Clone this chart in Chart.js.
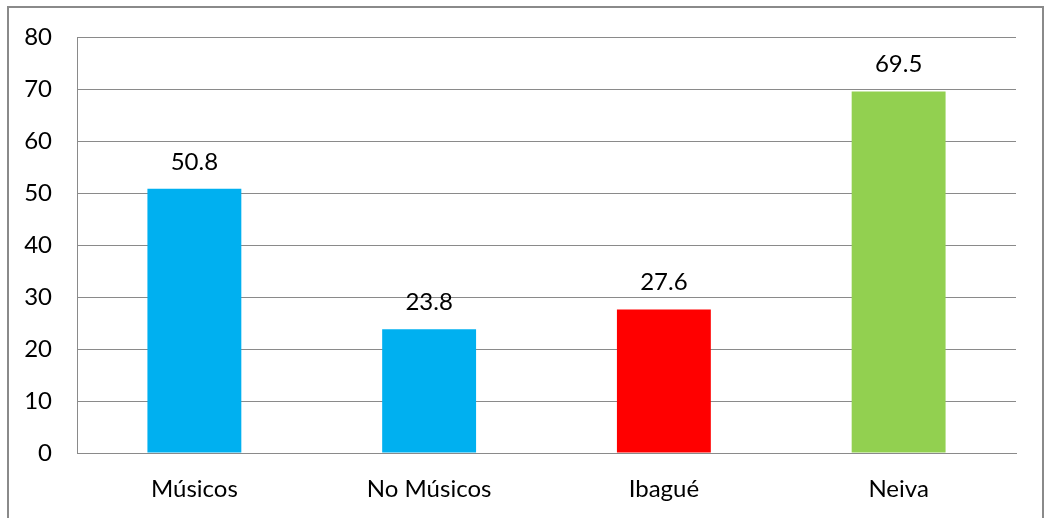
<!DOCTYPE html>
<html>
<head>
<meta charset="utf-8">
<script src="https://cdn.jsdelivr.net/npm/chart.js@4.4.1/dist/chart.umd.min.js"></script>
<style>
  html, body { margin: 0; padding: 0; background: #fff; }
  #wrap { position: relative; width: 1045px; height: 518px; }
</style>
</head>
<body>
<div id="wrap"><canvas id="chart" width="1045" height="518"></canvas></div>
<script>
const categories = ['Músicos', 'No Músicos', 'Ibagué', 'Neiva'];
const values = [50.8, 23.8, 27.6, 69.5];
const barColors = ['#00B0F0', '#00B0F0', '#FF0000', '#92D050'];
const yTicks = [0, 10, 20, 30, 40, 50, 60, 70, 80];

const FONT = 'Lato, Calibri, sans-serif';

// outer frame + value labels over the bars
const framePlugin = {
  id: 'frame',
  beforeDraw(chart) {
    const ctx = chart.ctx;
    ctx.save();
    ctx.strokeStyle = '#8a8a8a';
    ctx.lineWidth = 2;
    ctx.strokeRect(8, 7, 1035, 530);
    ctx.restore();
  },
  afterDatasetsDraw(chart) {
    const ctx = chart.ctx;
    const meta = chart.getDatasetMeta(0);
    ctx.save();
    ctx.font = '24px ' + FONT;
    ctx.fillStyle = '#000';
    ctx.textAlign = 'center';
    ctx.textBaseline = 'middle';
    meta.data.forEach((bar, i) => {
      ctx.fillText(values[i].toFixed(1), bar.x, bar.y - 27);
    });
    ctx.restore();
  }
};

new Chart(document.getElementById('chart'), {
  type: 'bar',
  data: {
    labels: categories,
    datasets: [{
      data: values,
      backgroundColor: barColors,
      barPercentage: 0.4,
      categoryPercentage: 1.0
    }]
  },
  options: {
    responsive: false,
    animation: false,
    layout: { padding: { top: 37, right: 29, left: 0, bottom: 0 } },
    plugins: { legend: { display: false }, tooltip: { enabled: false } },
    scales: {
      x: {
        grid: { display: false, drawTicks: false },
        border: { color: '#8a8a8a', width: 1 },
        ticks: { color: '#000', font: { family: FONT, size: 24 }, padding: 22 },
        afterFit(scale) { scale.height = 65; }
      },
      y: {
        min: 0,
        max: 80,
        afterBuildTicks(scale) { scale.ticks = yTicks.map(v => ({ value: v })); },
        grid: { color: '#8a8a8a', lineWidth: 1, drawTicks: false },
        border: { color: '#8a8a8a', width: 1 },
        ticks: { color: '#000', font: { family: FONT, size: 24 }, padding: 25 },
        afterFit(scale) {
          scale.width = 77;
          scale.paddingTop = 0;
          scale.paddingBottom = 0;
        }
      }
    }
  },
  plugins: [framePlugin]
});
</script>
</body>
</html>
